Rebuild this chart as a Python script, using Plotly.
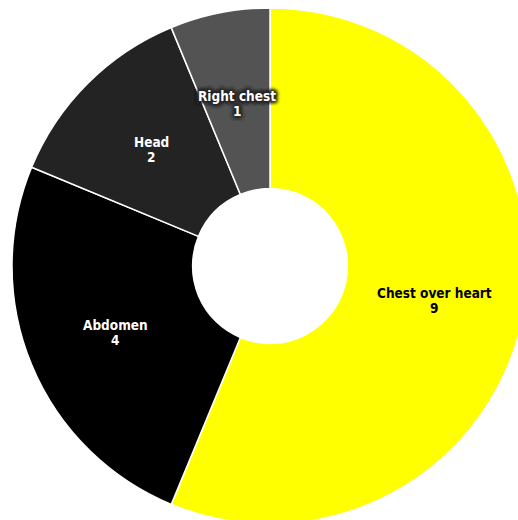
import math
import plotly.graph_objects as go

labels = ["Chest over heart", "Abdomen", "Head", "Right chest"]
values = [9, 4, 2, 1]
colors = ["#ffff00", "#000000", "#232323", "#535353"]
text_colors = ["#000000", "#ffffff", "#ffffff", "#ffffff"]
halo = ", ".join(["0px 0px 4px #262626"] * 8)
shadows = ["none", "none", "none", halo]

HOLE = 0.30
LABEL_R = (1 + HOLE) / 2
FONT = "DejaVu Sans Condensed, Liberation Sans Narrow, Arial Narrow, sans-serif"
FSIZE = 13.5

fig = go.Figure(go.Pie(
    labels=labels,
    values=values,
    sort=False,
    direction="clockwise",
    rotation=0,
    hole=HOLE,
    marker=dict(colors=colors, line=dict(color="#ffffff", width=1.5)),
    textinfo="none",
    showlegend=False,
    hoverinfo="label+value",
))

total = sum(values)
cum = 0
annotations = []
for lab, val, tc, sh in zip(labels, values, text_colors, shadows):
    mid = (cum + val / 2) / total * 2 * math.pi
    cum += val
    x = 0.5 + 0.5 * LABEL_R * math.sin(mid)
    y = 0.5 + 0.5 * LABEL_R * math.cos(mid)
    for txt, ys in ((lab, 5.5), (str(val), -9.5)):
        annotations.append(dict(
            x=x, y=y, xref="paper", yref="paper", text=f"<b>{txt}</b>",
            showarrow=False, xanchor="center", yanchor="middle", yshift=ys,
            font=dict(family=FONT, size=FSIZE, color=tc, shadow=sh),
        ))

fig.update_layout(
    width=528, height=524,
    margin=dict(l=12, r=0, t=8, b=0),
    paper_bgcolor="#ffffff",
    annotations=annotations,
)

fig.write_html("out.html")
